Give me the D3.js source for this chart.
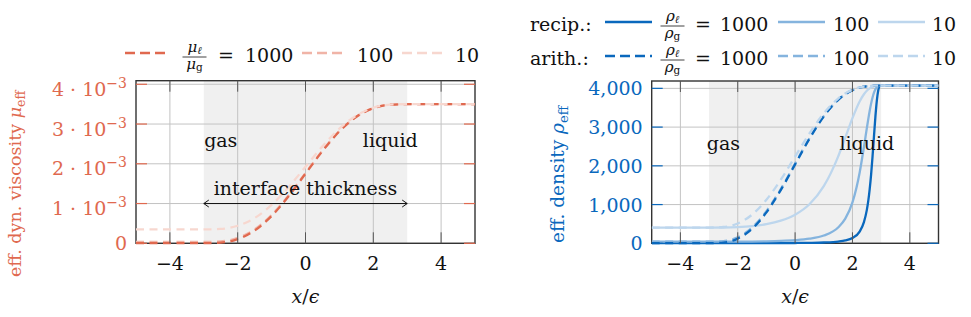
<!DOCTYPE html>
<html>
<head>
<meta charset="utf-8">
<script src="https://cdn.jsdelivr.net/npm/d3@7"></script>
<style>
body { margin: 0; background: #fff; }
svg { display: block; font-family: "DejaVu Serif", serif; }
</style>
</head>
<body>
<script>
const xVisc = [-5, -4, -3, -2.5, -2, -1.5, -1, -0.5, 0, 0.5, 1, 1.5, 2, 2.5, 3, 4, 5]
// effective dyn. viscosity (arithmetic mean), in units of 1e-3
const mu1000 = [0.0035, 0.0035, 0.0035, 0.017, 0.104, 0.321, 0.687, 1.182, 1.752, 2.321, 2.816, 3.183, 3.399, 3.487, 3.5, 3.5, 3.5]
const mu100 = [0.035, 0.035, 0.035, 0.048, 0.135, 0.350, 0.712, 1.203, 1.768, 2.332, 2.823, 3.185, 3.400, 3.487, 3.5, 3.5, 3.5]
const mu10 = [0.35, 0.35, 0.35, 0.362, 0.441, 0.636, 0.966, 1.412, 1.925, 2.438, 2.884, 3.214, 3.409, 3.488, 3.5, 3.5, 3.5]

// x/eps positions for the density curves (denser near the steep part)
const xDens = [-5, -4, -3, -2.5, -2, -1.5, -1, -0.5, 0, 0.5, 1, 1.5, 1.75, 2, 2.25, 2.4, 2.5, 2.55, 2.6, 2.65, 2.7, 2.75, 2.8, 2.85, 2.9, 2.95, 3, 4, 5]
const recip1000 = [4.07, 4.07, 4.07, 4.09, 4.19, 4.48, 5.06, 6.14, 8.13, 12.05, 20.7, 44.4, 73.3, 136.5, 302.9, 546.8, 855.7, 1087, 1390, 1771, 2237, 2760, 3269, 3683, 3951, 4058, 4070, 4070, 4070]
const recip100 = [40.7, 40.7, 40.7, 40.85, 41.9, 44.6, 50.5, 61.1, 80.6, 118.4, 200, 407.2, 635.5, 1055.7, 1823, 2484, 2966, 3200, 3417, 3606, 3764, 3889, 3974, 4028, 4058, 4069, 4070, 4070, 4070]
const recip10 = [407, 407, 407, 408.4, 417.9, 443.2, 493.9, 584.3, 740, 1009, 1475, 2239, 2729, 3231, 3660, 3847, 3937, 3972, 4000, 4023, 4040, 4053, 4062, 4067, 4069, 4070, 4070, 4070, 4070]
const arith1000 = [4.07, 4.07, 4.07, 19.4, 121.3, 373.4, 799, 1374.7, 2037, 2699.4, 3275.1, 3700.6, 3848, 3952.7, 4019.4, 4043.8, 4054.7, 4058.8, 4062.2, 4064.7, 4066.7, 4068.1, 4069, 4069.6, 4069.9, 4070, 4070, 4070, 4070]
const arith100 = [40.7, 40.7, 40.7, 55.8, 156.9, 406.8, 828.4, 1399, 2055.4, 2711.7, 3282.3, 3703.9, 3850, 3953.8, 4019.8, 4044, 4054.8, 4058.9, 4062.2, 4064.8, 4066.7, 4068.1, 4069, 4069.6, 4069.9, 4070, 4070, 4070, 4070]
const arith10 = [407, 407, 407, 420.8, 512.6, 739.8, 1123.1, 1641.8, 2238.5, 2835.2, 3353.9, 3737.2, 3870, 3964.4, 4024.4, 4046.4, 4056.2, 4059.9, 4062.9, 4065.2, 4067, 4068.3, 4069.1, 4069.6, 4069.9, 4070, 4070, 4070, 4070]

const ratios = ['1000', '100', '10']
const xTicks = [-4, -2, 0, 2, 4]
const viscTicks = [0, 1, 2, 3, 4]          // times 1e-3
const densTicks = [0, 1000, 2000, 3000, 4000]
const interfaceRange = [-3, 3]

const W = 971, H = 317
const orange = '#e0694f', blue = '#0a68bd'
const fade = [1, 0.5, 0.27]
const drawOrder = [1, 0, 2]     // 100 under 1000, 10 on top
const tint = (c, f) => d3.interpolateRgb('#ffffff', c)(f)
const dash = '8,5.5'

const svg = d3.select('body').append('svg').attr('width', W).attr('height', H)

const panel = (id, box, yMax, yTicks, color, yFmt) => {
    const x = d3.scaleLinear([-5, 5], [box.x0, box.x1])
    const y = d3.scaleLinear([0, yMax], [box.y1, box.y0])
    const g = svg.append('g')

    g.append('clipPath').attr('id', id).append('rect')
        .attr('x', box.x0).attr('y', box.y0 - 2)
        .attr('width', box.x1 - box.x0).attr('height', box.y1 - box.y0 + 4)

    // interface region
    g.append('rect')
        .attr('x', x(interfaceRange[0])).attr('y', box.y0)
        .attr('width', x(interfaceRange[1]) - x(interfaceRange[0]))
        .attr('height', box.y1 - box.y0)
        .attr('fill', '#f0f0f0')

    // grid
    g.selectAll('.vg').data(xTicks).enter().append('line')
        .attr('x1', d => x(d)).attr('x2', d => x(d))
        .attr('y1', box.y0).attr('y2', box.y1)
        .attr('stroke', '#c3c3c3').attr('stroke-width', 1)
    g.selectAll('.hg').data(yTicks).enter().append('line')
        .attr('x1', box.x0).attr('x2', box.x1)
        .attr('y1', d => y(d)).attr('y2', d => y(d))
        .attr('stroke', '#c3c3c3').attr('stroke-width', 1)

    // frame (under the curves, like the reference)
    g.append('rect')
        .attr('x', box.x0).attr('y', box.y0)
        .attr('width', box.x1 - box.x0).attr('height', box.y1 - box.y0)
        .attr('fill', 'none').attr('stroke', '#333').attr('stroke-width', 1.4)

    const plot = g.append('g').attr('clip-path', 'url(#' + id + ')')

    // ticks
    const tl = 11
    g.selectAll('.xt').data(xTicks.flatMap(d => [[d, box.y1, box.y1 - tl], [d, box.y0, box.y0 + tl]]))
        .enter().append('line')
        .attr('x1', d => x(d[0])).attr('x2', d => x(d[0]))
        .attr('y1', d => d[1]).attr('y2', d => d[2])
        .attr('stroke', '#555').attr('stroke-width', 1)
    g.selectAll('.yt').data(yTicks.flatMap(d => [[d, box.x0, box.x0 + tl], [d, box.x1, box.x1 - tl]]))
        .enter().append('line')
        .attr('x1', d => d[1]).attr('x2', d => d[2])
        .attr('y1', d => y(d[0])).attr('y2', d => y(d[0]))
        .attr('stroke', color).attr('stroke-width', 1.2)

    // tick labels
    g.selectAll('.xl').data(xTicks).enter().append('text')
        .attr('x', d => x(d)).attr('y', box.y1 + 27)
        .attr('text-anchor', 'middle').attr('font-size', 19).attr('fill', '#111')
        .text(d => d < 0 ? '\u2212' + (-d) : d)
    const yl = g.selectAll('.yl').data(yTicks).enter().append('text')
        .attr('x', box.x0 - 9).attr('y', d => y(d) + (d && yFmt === 'exp' ? 11.5 : 7))
        .attr('text-anchor', 'end').attr('font-size', 19).attr('fill', color)
    if (yFmt === 'exp') {
        yl.each(function (d) {
            const t = d3.select(this)
            if (d === 0) { t.text('0'); return }
            t.append('tspan').text(d + ' \u00b7 10')
            t.append('tspan').attr('font-size', 14).attr('dy', -8).text('\u22123')
        })
    } else {
        yl.text(d => d3.format(',')(d))
    }

    // x label
    const xl = g.append('text').attr('x', x(0)).attr('y', 303)
        .attr('text-anchor', 'middle').attr('font-size', 19).attr('fill', '#111')
    xl.append('tspan').attr('font-style', 'italic').text('x')
    xl.append('tspan').text('/')
    xl.append('tspan').attr('font-style', 'italic').text('\u03f5')

    return { x, y, g, plot }
}

const addCurve = (p, xs, ys, color, dashed) => {
    const line = d3.line().x((d, i) => p.x(xs[i])).y(d => p.y(d)).curve(d3.curveMonotoneX)
    p.plot.append('path').datum(ys)
        .attr('d', line)
        .attr('fill', 'none').attr('stroke', color)
        .attr('stroke-width', 2.3)
        .attr('stroke-dasharray', dashed ? dash : null)
}

const regionLabels = (p, yv, dy) => {
    [['gas', -2.5], ['liquid', 2.5]].forEach(([t, xv]) => {
        p.g.append('text').attr('x', p.x(xv)).attr('y', p.y(yv) + dy)
            .attr('text-anchor', 'middle').attr('font-size', 19).attr('fill', '#111').text(t)
    })
}

// rotated axis title, starting (bottom end) at y0
const yLabel = (cx, y0, size, color, name, sym) => {
    const t = svg.append('text')
        .attr('transform', 'translate(' + cx + ',' + y0 + ') rotate(-90)')
        .attr('text-anchor', 'start').attr('font-size', size).attr('fill', color)
    t.append('tspan').text(name + ' ')
    t.append('tspan').attr('font-style', 'italic').text(sym)
    t.append('tspan').attr('font-size', size * 0.72).attr('dy', 4).text('eff')
}

const fraction = (cx, bar, sym) => {
    const num = svg.append('text').attr('x', cx).attr('y', bar - 5)
        .attr('text-anchor', 'middle').attr('font-size', 15).attr('fill', '#111')
    num.append('tspan').attr('font-style', 'italic').text(sym)
    num.append('tspan').attr('font-style', 'italic').attr('font-size', 10.5).attr('dy', 2).text('\u2113')
    svg.append('line').attr('x1', cx - 12).attr('x2', cx + 12).attr('y1', bar).attr('y2', bar)
        .attr('stroke', '#111').attr('stroke-width', 0.8)
    const den = svg.append('text').attr('x', cx).attr('y', bar + 12)
        .attr('text-anchor', 'middle').attr('font-size', 15).attr('fill', '#111')
    den.append('tspan').attr('font-style', 'italic').text(sym)
    den.append('tspan').attr('font-size', 10.5).attr('dy', 2).text('g')
}

const legendRow = (b, color, dashed, sym, lines, frac, eqX, firstX, labelX) => {
    lines.forEach((l, i) => {
        svg.append('line').attr('x1', l[0]).attr('x2', l[1]).attr('y1', b - 9).attr('y2', b - 9)
            .attr('stroke', tint(color, fade[i])).attr('stroke-width', 2.6)
            .attr('stroke-dasharray', dashed ? '10,5' : null)
    })
    fraction(frac, b - 5, sym)
    const txt = (x, s) => svg.append('text').attr('x', x).attr('y', b)
        .attr('font-size', 19).attr('fill', '#111').text(s)
    txt(eqX, '=')
    txt(firstX, ratios[0])
    txt(labelX[0], ratios[1])
    txt(labelX[1], ratios[2])
}

// ---- left: viscosity
const L = panel('clipL', { x0: 136, x1: 475, y0: 80.7, y1: 243.3 }, 4.09, viscTicks, orange, 'exp')
const muSeries = [mu1000, mu100, mu10]
drawOrder.forEach(i => addCurve(L, xVisc, muSeries[i], tint(orange, fade[i]), true))
regionLabels(L, 2.5, 3)

// interface thickness arrow
const ay = L.y(1), ax0 = L.x(interfaceRange[0]), ax1 = L.x(interfaceRange[1])
L.g.append('path')
    .attr('d', 'M' + ax0 + ',' + ay + 'H' + ax1 +
        'M' + (ax0 + 5) + ',' + (ay - 3.5) + 'L' + ax0 + ',' + ay + 'L' + (ax0 + 5) + ',' + (ay + 3.5) +
        'M' + (ax1 - 5) + ',' + (ay - 3.5) + 'L' + ax1 + ',' + ay + 'L' + (ax1 - 5) + ',' + (ay + 3.5))
    .attr('fill', 'none').attr('stroke', '#111').attr('stroke-width', 1)
L.g.append('text').attr('x', L.x(0)).attr('y', 195)
    .attr('text-anchor', 'middle').attr('font-size', 19).attr('fill', '#111').text('interface thickness')

yLabel(21, 277, 17.5, orange, 'eff. dyn. viscosity', '\u03bc')
legendRow(62, orange, true, '\u03bc', [[125, 168], [302, 343], [402, 443]], 194.5, 218, 245, [357, 455])

// ---- right: density
const R = panel('clipR', { x0: 651.7, x1: 938.5, y0: 81, y1: 243.3 }, 4190, densTicks, blue, 'plain')
const recipSeries = [recip1000, recip100, recip10]
const arithSeries = [arith1000, arith100, arith10]
recipSeries.forEach((s, i) => addCurve(R, xDens, s, tint(blue, fade[i]), false))
drawOrder.forEach(i => addCurve(R, xDens, arithSeries[i], tint(blue, fade[i]), true))
regionLabels(R, 2500, 4)

yLabel(564, 243, 18.5, blue, 'eff. density', '\u03c1')

const rightLines = [[605, 652], [778, 825], [878, 925]]
svg.append('text').attr('x', 530).attr('y', 31).attr('font-size', 19).attr('fill', '#111').text('recip.:')
legendRow(31, blue, false, '\u03c1', rightLines, 672.5, 695, 720, [833, 932])
svg.append('text').attr('x', 530).attr('y', 65).attr('font-size', 19).attr('fill', '#111').text('arith.:')
legendRow(65, blue, true, '\u03c1', rightLines, 672.5, 695, 720, [833, 932])
</script>
</body>
</html>
